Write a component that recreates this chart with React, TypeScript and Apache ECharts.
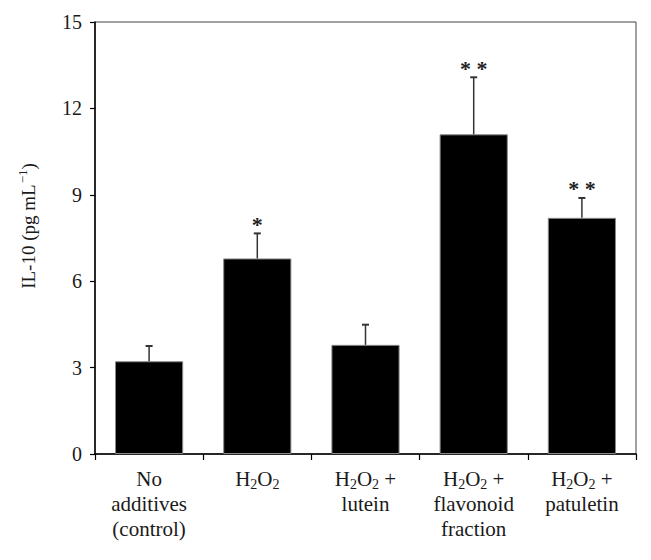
import React, { useEffect, useRef } from "react";
import * as echarts from "echarts";

const categories = [
  "No\nadditives\n(control)",
  "H2O2",
  "H2O2 +\nlutein",
  "H2O2 +\nflavonoid\nfraction",
  "H2O2 +\npatuletin",
];
const means = [3.22, 6.79, 3.79, 11.1, 8.2];
const errors = [0.53, 0.87, 0.7, 1.98, 0.69];
const stars = ["", "*", "", "* *", "* *"];
const yTicks = { min: 0, max: 15, interval: 3 };

const FONT = "Liberation Serif";

export default function App() {
  const ref = useRef<HTMLDivElement>(null);
  useEffect(() => {
    if (!ref.current) return;
    const chart = echarts.init(ref.current, undefined, { renderer: "svg" });
    chart.setOption({
      animation: false,
      backgroundColor: "#fff",
      grid: {
        left: 84,
        right: 7,
        top: 14,
        bottom: 98,
        show: true,
        borderColor: "#444",
        borderWidth: 1,
        backgroundColor: "transparent",
      },
      xAxis: {
        type: "category",
        data: categories,
        boundaryGap: true,
        axisLine: { lineStyle: { color: "#000", width: 1.5 } },
        axisTick: { show: true, length: 6, lineStyle: { color: "#000", width: 1.2 } },
        axisLabel: {
          interval: 0,
          margin: 12,
          color: "#1a1a1a",
          fontFamily: FONT,
          fontSize: 21,
          lineHeight: 25,
          formatter: (v: string) => v.replace(/H2O2/g, "H{s|2}O{s|2}"),
          rich: {
            s: {
              fontFamily: FONT,
              fontSize: 14,
              color: "#1a1a1a",
              lineHeight: 15,
              verticalAlign: "bottom",
            },
          },
        },
        splitLine: { show: false },
      },
      yAxis: {
        type: "value",
        min: yTicks.min,
        max: yTicks.max,
        interval: yTicks.interval,
        name: "{t|IL-10 (pg mL}{u|−1}{t|)}",
        nameLocation: "middle",
        nameGap: 55,
        nameRotate: 90,
        nameTextStyle: {
          padding: [0, 0, 0, 24],
          rich: {
            t: { fontFamily: FONT, fontSize: 19, color: "#1a1a1a", lineHeight: 24 },
            u: {
              fontFamily: FONT,
              fontSize: 13,
              color: "#1a1a1a",
              lineHeight: 24,
              verticalAlign: "top",
              padding: [0, 0, 0, 1],
            },
          },
        },
        axisLine: { show: true, lineStyle: { color: "#000", width: 1.5 } },
        axisTick: { show: true, length: 5, lineStyle: { color: "#000", width: 1.2 } },
        axisLabel: {
          margin: 13,
          color: "#1a1a1a",
          fontFamily: FONT,
          fontSize: 20,
        },
        splitLine: { show: false },
      },
      series: [
        {
          type: "bar",
          data: means,
          barWidth: "63%",
          itemStyle: { color: "#000", borderColor: "#888", borderWidth: 1 },
          z: 2,
        },
        {
          type: "custom",
          z: 3,
          data: means.map((m, i) => [i, m, errors[i]]),
          renderItem: (params: any, api: any) => {
            const i = api.value(0);
            const m = api.value(1);
            const e = api.value(2);
            const base = api.coord([i, m]);
            const top = api.coord([i, m + e]);
            const cap = 3.5;
            const children: any[] = [
              {
                type: "line",
                shape: { x1: base[0], y1: base[1], x2: top[0], y2: top[1] },
                style: { stroke: "#333", lineWidth: 1.5 },
              },
              {
                type: "line",
                shape: { x1: top[0] - cap, y1: top[1], x2: top[0] + cap, y2: top[1] },
                style: { stroke: "#333", lineWidth: 2 },
              },
            ];
            const s = stars[params.dataIndex];
            if (s) {
              children.push({
                type: "text",
                x: top[0],
                y: top[1] + 2,
                style: {
                  text: s,
                  font: `bold 22px "${FONT}"`,
                  fill: "#222",
                  align: "center",
                  verticalAlign: "bottom",
                },
              });
            }
            return { type: "group", children };
          },
        },
      ],
    });
    return () => chart.dispose();
  }, []);
  return <div ref={ref} style={{ width: 635, height: 544 }} />;
}
